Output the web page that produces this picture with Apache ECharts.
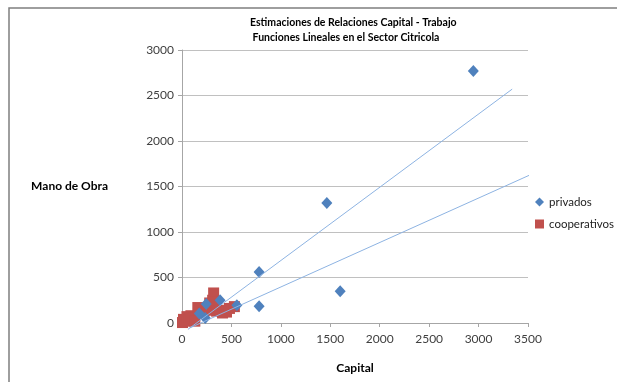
<!DOCTYPE html>
<html>
<head>
<meta charset="utf-8">
<script src="https://cdn.jsdelivr.net/npm/echarts@6/dist/echarts.min.js"></script>
<style>
    html, body { margin: 0; padding: 0; background: #fff; }
    #chart { width: 617px; height: 382px; }
</style>
</head>
<body>
<div id="chart"></div>
<script>
// data
const privados = [
    [2947, 2770], [1465, 1320], [1600, 350], [780, 560], [780, 185],
    [555, 195], [385, 250], [245, 210], [235, 55], [175, 105],
];
const cooperativos = [
    [5, 5], [15, 40], [30, 20], [50, 70], [70, 30], [90, 80], [110, 60],
    [130, 20], [160, 170], [190, 160], [220, 110], [250, 140], [280, 220],
    [310, 250], [320, 330], [335, 235], [350, 130], [380, 140], [410, 110],
    [450, 120], [480, 160], [530, 180],
];
// the two linear fits, start and end point
const lineaPrivados = [[60, -70], [3340, 2570]];
const lineaCooperativos = [[77, -55], [3563, 1648]];

const font = 'Lato, "Open Sans", sans-serif';
const chart = echarts.init(document.getElementById('chart'));

const trend = (data) => ({
    type: 'line',
    data,
    symbol: 'none',
    silent: true,
    clip: false,
    z: 4,
    lineStyle: { color: '#8db3e2', width: 1 },
});

chart.setOption({
    animation: false,
    textStyle: { fontFamily: font },
    title: {
        text: 'Estimaciones de Relaciones Capital - Trabajo\n Funciones Lineales en el Sector Citricola',
        left: 245,
        top: 10,
        textStyle: { fontSize: 10.5, fontWeight: 'bold', color: '#000', lineHeight: 15, fontFamily: font },
    },
    grid: { left: 182, right: 89, top: 50, bottom: 59 },
    legend: {
        orient: 'vertical',
        left: 530,
        top: 191,
        itemGap: 10,
        itemWidth: 9,
        itemHeight: 9,
        data: [
            { name: 'privados', icon: 'diamond' },
            { name: 'cooperativos', icon: 'rect' },
        ],
        textStyle: { fontSize: 11.5, color: '#222', fontFamily: font },
    },
    xAxis: {
        type: 'value',
        min: 0,
        max: 3500,
        interval: 500,
        name: 'Capital',
        nameLocation: 'middle',
        nameGap: 39,
        nameTextStyle: { fontWeight: 'bold', fontSize: 12, color: '#000' },
        axisLine: { lineStyle: { color: '#a6a6a6' } },
        axisTick: { show: true, length: 4, lineStyle: { color: '#a6a6a6' } },
        axisLabel: { color: '#404040', fontSize: 12, margin: 10, formatter: (v) => String(v) },
        splitLine: { show: false },
    },
    yAxis: {
        type: 'value',
        min: 0,
        max: 3000,
        interval: 500,
        name: 'Mano de Obra',
        nameLocation: 'middle',
        nameRotate: 0,
        nameGap: 74,
        nameTextStyle: { fontWeight: 'bold', fontSize: 12, color: '#000' },
        axisLine: { show: true, lineStyle: { color: '#a6a6a6' } },
        axisTick: { show: true, length: 4, lineStyle: { color: '#a6a6a6' } },
        axisLabel: { color: '#404040', fontSize: 12, margin: 8, formatter: (v) => String(v) },
        splitLine: { lineStyle: { color: '#c0c0c0', width: 1 } },
    },
    series: [
        trend(lineaPrivados),
        trend(lineaCooperativos),
        {
            name: 'privados',
            type: 'scatter',
            data: privados,
            symbol: 'diamond',
            symbolSize: [11, 12],
            clip: false,
            z: 3,
            itemStyle: { color: '#4f81bd', opacity: 1 },
        },
        {
            name: 'cooperativos',
            type: 'scatter',
            data: cooperativos,
            symbol: 'rect',
            symbolSize: 11,
            clip: false,
            z: 2,
            itemStyle: { color: '#c0504d', opacity: 1 },
        },
    ],
    graphic: [
        // outer chart frame (top and left edges)
        {
            type: 'polyline',
            shape: { points: [[9, 382], [9, 8], [617, 8]] },
            style: { stroke: '#7f7f7f', lineWidth: 1.5, fill: null },
        },
    ],
});
</script>
</body>
</html>
